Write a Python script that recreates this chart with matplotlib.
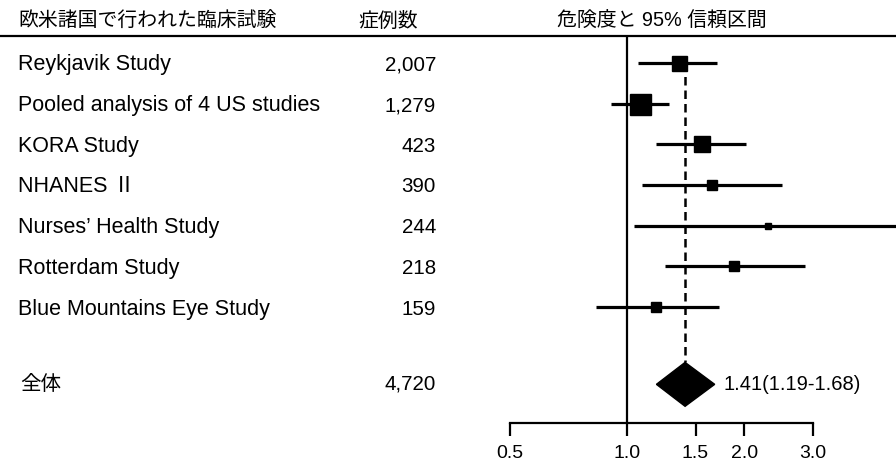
import numpy as np
import matplotlib.pyplot as plt
from matplotlib import transforms
from matplotlib.ticker import NullLocator

plt.rcParams['font.family'] = ['Liberation Sans', 'Noto Sans CJK JP']

# data
studies = ["Reykjavik Study", "Pooled analysis of 4 US studies", "KORA Study",
           "NHANES Ⅱ", "Nurses’ Health Study", "Rotterdam Study",
           "Blue Mountains Eye Study"]
cases = [2007, 1279, 423, 390, 244, 218, 159]
rr = [1.36, 1.08, 1.56, 1.65, 2.30, 1.88, 1.19]
ci_low = [1.07, 0.91, 1.19, 1.09, 1.04, 1.25, 0.83]
ci_high = [1.70, 1.28, 2.02, 2.50, 5.6, 2.87, 1.72]

total_name = "全体"
total_cases = 4720
total_rr = 1.41
total_low = 1.19
total_high = 1.68

headers = ["欧米諸国で行われた臨床試験", "症例数", "危険度と 95% 信頼区間"]
ticks = [0.5, 1.0, 1.5, 2.0, 3.0]

# square sizes in pixels (study weight)
sq_px = [15, 21, 16, 10, 6, 10, 10]

fig = plt.figure(figsize=(8.96, 4.63), dpi=100)
ax = fig.add_axes([0, 40 / 463, 1, 387 / 463])
ax.set_xscale('log')
ax.set_xlim(0.0245, 4.91)
ax.set_ylim(8.85, -0.66)

fs_name = 15.5
fs_num = 14.8
fs_head = 14.3
rows = np.arange(len(studies))
y_total = 7.9

for sp in ['left', 'right']:
    ax.spines[sp].set_visible(False)
ax.spines['top'].set_linewidth(1.6)
ax.spines['bottom'].set_linewidth(1.6)
ax.spines['bottom'].set_bounds(ticks[0], ticks[-1])
ax.set_yticks([])
ax.set_xticks(ticks)
ax.set_xticklabels([f"{t:.1f}" for t in ticks])
ax.xaxis.set_minor_locator(NullLocator())
ax.tick_params(axis='x', length=9.5, width=1.6, labelsize=14, pad=6)

# reference lines
ax.axvline(1.0, color='black', lw=1.6, zorder=1)
ax.plot([total_rr, total_rr], [0, y_total - 0.54], color='black', lw=1.8,
        dashes=(3.4, 2.0), zorder=1)

# studies
for i, y in enumerate(rows):
    ax.plot([ci_low[i], ci_high[i]], [y, y], color='black', lw=2.3, zorder=2,
            solid_capstyle='butt')
    ax.plot(rr[i], y, marker='s', color='black', markersize=sq_px[i] * 0.72,
            zorder=3, linestyle='none')

# overall diamond
ax.fill([total_low, total_rr, total_high, total_rr],
        [y_total, y_total - 0.54, y_total, y_total + 0.54],
        color='black', zorder=3)
ax.annotate(f"{total_rr:.2f}({total_low:.2f}-{total_high:.2f})",
            xy=(total_high, y_total), xytext=(6, 0), textcoords='offset points',
            va='center', ha='left', fontsize=14.5)

# left columns
trans = transforms.blended_transform_factory(fig.transFigure, ax.transData)
for i, y in enumerate(rows):
    ax.text(18 / 896, y + 0.05, studies[i], transform=trans, va='center',
            ha='left', fontsize=fs_name)
    ax.text(436 / 896, y + 0.05, f"{cases[i]:,}", transform=trans,
            va='center', ha='right', fontsize=fs_num)
ax.text(20 / 896, y_total, total_name, transform=trans, va='center',
        ha='left', fontsize=fs_num)
ax.text(436 / 896, y_total, f"{total_cases:,}", transform=trans, va='center',
        ha='right', fontsize=fs_num)

# headers
hy = 1 - 21 / 463
fig.text(18 / 896, hy, headers[0], va='center', ha='left', fontsize=fs_head)
fig.text(358 / 896, hy, headers[1], va='center', ha='left', fontsize=fs_head)
fig.text(557 / 896, hy, headers[2], va='center', ha='left', fontsize=fs_head)

fig.savefig('out.png', dpi=100)
